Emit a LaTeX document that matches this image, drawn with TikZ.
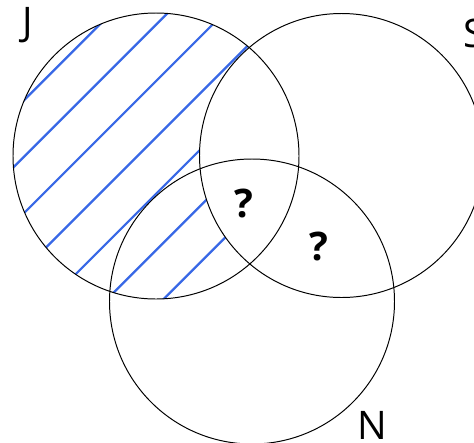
\documentclass[tikz,border=0pt]{standalone}
\usepackage{fontspec}
\setmainfont{Open Sans}
\usepackage{xcolor}
\usepackage{tikz}
\usetikzlibrary{positioning}

\definecolor{hatchblue}{RGB}{56,104,230}

\begin{document}
\begin{tikzpicture}[x=0.025cm,y=-0.025cm,
  ring/.style={draw=black,line width=0.7pt},
  hatch/.style={draw=hatchblue,line width=1.6pt},
  setlab/.style={font=\fontsize{28}{30}\selectfont,anchor=base,inner sep=0pt},
  qmark/.style={font=\fontsize{28}{30}\selectfont\bfseries,anchor=base,inner sep=0pt}]
\useasboundingbox (0,0) rectangle (474,442);
\coordinate (J) at (156,156);
\coordinate (S) at (341.5,155.5);
\coordinate (N) at (252,301.5);
% hatching of J without S
\begin{scope}[even odd rule]
  \clip (J) circle[radius=143];
  \clip (S) circle[radius=142] (-10,-10) rectangle (600,600);
  \foreach \k in {-3,...,3} {
    \pgfmathsetmacro{\hoff}{293.5+56.4*\k}
    \draw[hatch] (\hoff/2-250,\hoff/2+250) -- (\hoff/2+250,\hoff/2-250);
  }
\end{scope}
\draw[ring] (J) circle[radius=143];
\draw[ring] (S) circle[radius=142];
\draw[ring] (N) circle[radius=142.5];
\node[setlab] (labJ) at (27.5,35) {J};
\node[setlab] (labS) at (474,47) {S};
\node[setlab] (labN) at (372,439) {N};
\node[qmark] (qJSN) at (243.5,217) {?};
\node[qmark] (qSN) at (318.5,260) {?};
\end{tikzpicture}
\end{document}
